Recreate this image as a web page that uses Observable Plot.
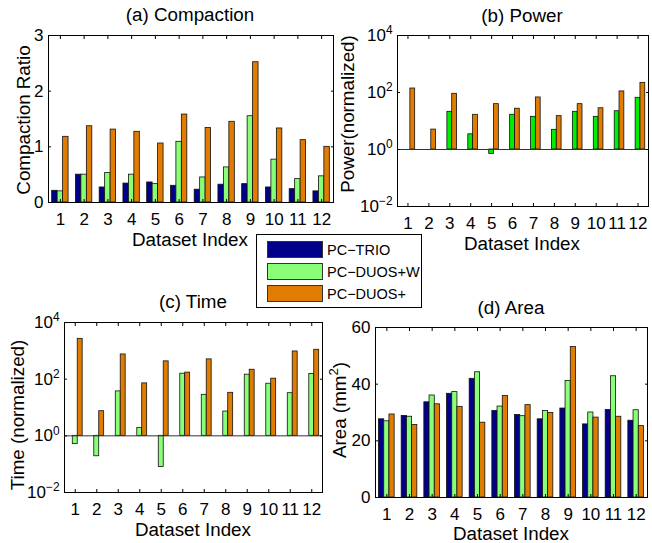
<!DOCTYPE html>
<html><head><meta charset="utf-8">
<script src="https://cdn.jsdelivr.net/npm/d3@7"></script>
<script src="https://cdn.jsdelivr.net/npm/@observablehq/plot@0.6"></script>
<style>
body{margin:0;background:#fff;}
#root{position:relative;width:652px;height:543px;font-family:"Liberation Sans",Arial,sans-serif;overflow:hidden;background:#fff;color:#000;}
.panel{position:absolute;}
.lbl{position:absolute;font-size:18.8px;white-space:nowrap;transform:translate(-50%,-50%);line-height:1;}
.ylbl{transform:translate(-50%,-50%) rotate(-90deg);}
.legend{position:absolute;left:256px;top:234px;width:164px;height:72px;border:1px solid #000;background:#fff;}
.sw{position:absolute;left:10px;width:54px;height:15px;border:1px solid #333;}
.lt{position:absolute;left:70px;font-size:14.5px;line-height:1;white-space:nowrap;}
</style></head><body><div id="root"></div>
<script>
// ---- data ----
const datasets = [1,2,3,4,5,6,7,8,9,10,11,12];
const series = ["PC\u2212TRIO","PC\u2212DUOS+W","PC\u2212DUOS+"];

const compTrio  = [0.21,0.50,0.27,0.34,0.36,0.30,0.23,0.32,0.33,0.27,0.24,0.20];
const compDuosW = [0.20,0.50,0.53,0.50,0.33,1.09,0.45,0.63,1.55,0.77,0.42,0.47];
const compDuos  = [1.18,1.37,1.31,1.27,1.06,1.58,1.34,1.45,2.52,1.33,1.12,1.00];

const powTrio  = [1,1,1,1,1,1,1,1,1,1,1,1];
const powDuosW = [1,1,21,3.4,0.7,16.5,14,4.9,21,14,22,65];
const powDuos  = [138,5.0,90,16.5,39,27,67,14.8,39,28,109,218];

const timeTrio  = [1,1,1,1,1,1,1,1,1,1,1,1];
const timeDuosW = [0.51,0.19,37,1.9,0.079,156,28,7.2,144,69,32,152];
const timeDuos  = [2650,7.4,745,71,425,170,500,33,215,104,950,1090];

const areaTrio  = [27.6,28.8,33.6,36.6,41.9,30.5,29.1,27.6,31.4,25.8,30.9,27.1];
const areaDuosW = [26.9,28.5,36.0,37.2,44.2,32.1,28.7,30.5,41.1,30.0,42.8,30.8];
const areaDuos  = [29.3,25.6,32.9,32.0,26.4,35.8,32.6,29.8,53.1,28.2,28.5,25.2];

const linTicksComp = [0,1,2,3];
const linTicksArea = [0,20,40,60];
const logTicks = [0.01,1,100,10000];

const colorsMain  = ["#000088","#88ff77","#e07c00"];
const colorsPower = ["#000088","#00ee00","#e07c00"];

// ---- helpers ----
const offsets = [-0.23, 0, 0.23];
const bw = 0.23;
function table(vals){
  return series.flatMap((s,k)=>datasets.map((d,i)=>({dataset:d, series:s, k, value:vals[k][i]})));
}
const root = document.getElementById("root");
const mL=50,mR=12,mT=12,mB=40;
const tickFont = 17;

function panel({vals, box, yType, yDomain, yTicks, yFormat, base, colors, baseline}){
  const data = table(vals);
  const w = box.w+mL+mR, h = box.h+mT+mB;
  const chart = Plot.plot({
    width:w, height:h, marginLeft:mL, marginRight:mR, marginTop:mT, marginBottom:mB,
    style:{fontFamily:"'Liberation Sans',Arial,sans-serif", fontSize:tickFont+"px", background:"transparent", color:"#000"},
    x:{domain:[0.5,12.5]},
    y:{type:yType, domain:yDomain},
    color:{domain:series, range:colors},
    marks:[
      Plot.rect(data,{x1:d=>d.dataset+offsets[d.k]-bw/2, x2:d=>d.dataset+offsets[d.k]+bw/2, y1:base, y2:"value", fill:"series", stroke:"#111", strokeWidth:0.8}),
      baseline ? Plot.ruleY([1],{stroke:"#333", strokeWidth:1}) : null,
      Plot.frame({stroke:"#000", strokeWidth:1}),
      Plot.axisX({ticks:datasets, tickSize:-3, tickPadding:13, tickFormat:d=>String(d), label:null, fontSize:tickFont}),
      Plot.axisX({anchor:"top", ticks:datasets, tickSize:-3, tickFormat:()=>"", label:null}),
      Plot.axisY({ticks:yTicks, tickSize:-3, tickPadding:8, tickFormat:yFormat, label:null, fontSize:tickFont}),
      Plot.axisY({anchor:"right", ticks:yTicks, tickSize:-3, tickFormat:()=>"", label:null})
    ]
  });
  // superscripts for log tick labels
  d3.select(chart).selectAll("text").each(function(){
    const t = this.textContent;
    const m = /^10\^(.+)$/.exec(t);
    if (m){
      const sel = d3.select(this);
      sel.text("");
      sel.append("tspan").text("10");
      sel.append("tspan").attr("dy","-0.55em").attr("font-size","0.7em").text(m[1]);
    }
  });
  chart.classList.add("panel");
  chart.style.left = (box.x-mL)+"px";
  chart.style.top = (box.y-mT)+"px";
  root.appendChild(chart);
}
const logFmt = d => "10^" + String(Math.round(Math.log10(d))).replace("-","\u2212");

panel({vals:[compTrio,compDuosW,compDuos], box:{x:48,y:35,w:285,h:167}, yType:"linear", yDomain:[0,3], yTicks:linTicksComp, yFormat:d=>String(d), base:0, colors:colorsMain, baseline:false});
panel({vals:[powTrio,powDuosW,powDuos], box:{x:397,y:35,w:251,h:171}, yType:"log", yDomain:[0.01,10000], yTicks:logTicks, yFormat:logFmt, base:1, colors:colorsPower, baseline:true});
panel({vals:[timeTrio,timeDuosW,timeDuos], box:{x:64,y:322,w:258,h:170}, yType:"log", yDomain:[0.01,10000], yTicks:logTicks, yFormat:logFmt, base:1, colors:colorsMain, baseline:true});
panel({vals:[areaTrio,areaDuosW,areaDuos], box:{x:375,y:327,w:272,h:170}, yType:"linear", yDomain:[0,60], yTicks:linTicksArea, yFormat:d=>String(d), base:0, colors:colorsMain, baseline:false});

// ---- text labels ----
function label(html, x, y, cls){
  const el = document.createElement("div");
  el.className = "lbl" + (cls ? " "+cls : "");
  el.innerHTML = html;
  el.style.left = x+"px"; el.style.top = y+"px";
  root.appendChild(el);
}
label("(a) Compaction",190,15);
label("(b) Power",522,16);
label("(c) Time",193,302);
label("(d) Area",511,308);
label("Dataset Index",190,240);
label("Dataset Index",522,244);
label("Dataset Index",193,530);
label("Dataset Index",511,534);
label("Compaction Ratio",24,120,"ylbl");
label("Power(normalized)",348,114,"ylbl");
label("Time (normalized)",18,415,"ylbl");
label("Area (mm<sup style='font-size:0.7em;line-height:0'>2</sup>)",340,410,"ylbl");

// ---- legend ----
const lg = document.createElement("div");
lg.className = "legend";
series.forEach((s,k)=>{
  const sw = document.createElement("div");
  sw.className = "sw"; sw.style.top = (6+k*22)+"px"; sw.style.background = colorsMain[k];
  lg.appendChild(sw);
  const tx = document.createElement("div");
  tx.className = "lt"; tx.style.top = (8+k*22)+"px"; tx.textContent = s;
  lg.appendChild(tx);
});
root.appendChild(lg);
</script></body></html>
